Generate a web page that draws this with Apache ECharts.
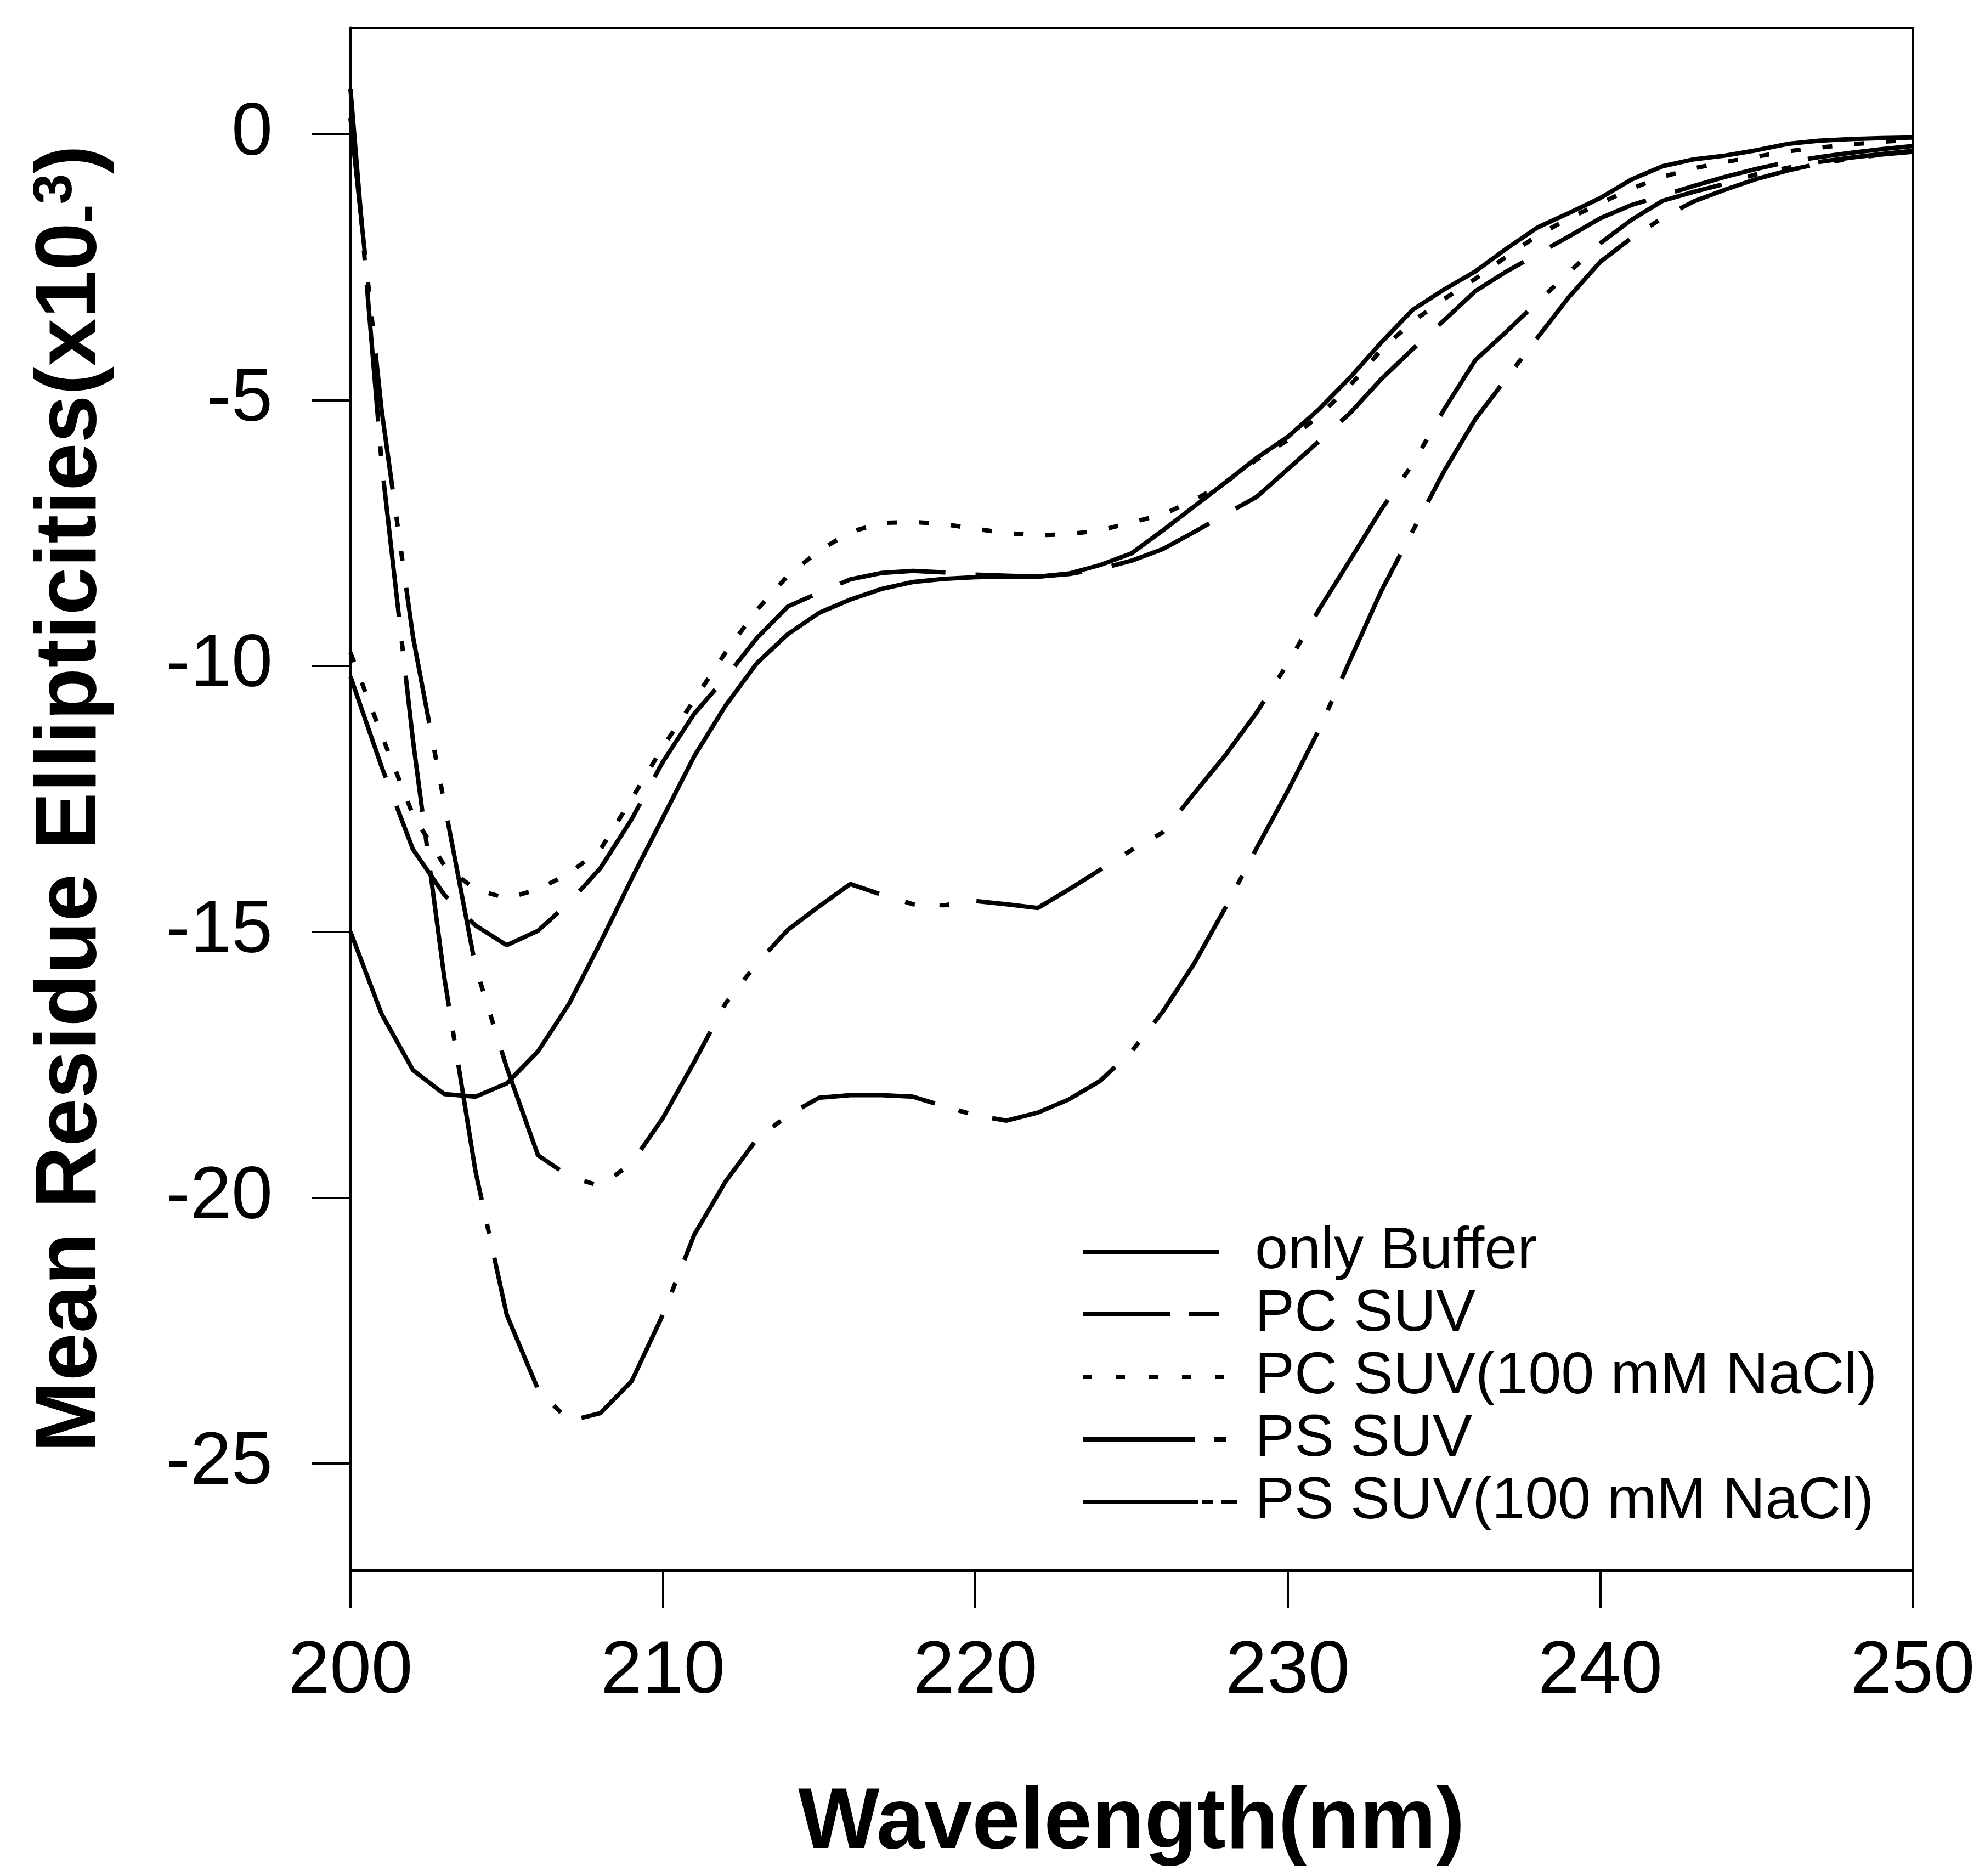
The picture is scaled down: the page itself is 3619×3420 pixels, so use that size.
<!DOCTYPE html>
<html>
<head>
<meta charset="utf-8">
<script src="https://cdn.jsdelivr.net/npm/echarts@6/dist/echarts.min.js"></script>
<style>
html, body { margin: 0; padding: 0; background: #fff; }
#chart { width: 3619px; height: 3420px; }
</style>
</head>
<body>
<div id="chart"></div>
<script>
// wavelength (nm), one reading per nm
var wavelength = [200, 201, 202, 203, 204, 205, 206, 207, 208, 209,
                  210, 211, 212, 213, 214, 215, 216, 217, 218, 219,
                  220, 221, 222, 223, 224, 225, 226, 227, 228, 229,
                  230, 231, 232, 233, 234, 235, 236, 237, 238, 239,
                  240, 241, 242, 243, 244, 245, 246, 247, 248, 249, 250];

// mean residue ellipticities (x10^-3)
var onlyBuffer = [-15.0, -16.55, -17.6, -18.05, -18.1, -17.85, -17.25, -16.35, -15.2, -14.0,
                  -12.85, -11.7, -10.75, -9.95, -9.4, -9.0, -8.75, -8.55, -8.42, -8.36,
                  -8.33, -8.32, -8.32, -8.26, -8.1, -7.88, -7.45, -7.0, -6.55, -6.09,
                  -5.69, -5.17, -4.57, -3.91, -3.3, -2.92, -2.58, -2.15, -1.75, -1.48,
                  -1.2, -0.85, -0.6, -0.47, -0.4, -0.3, -0.18, -0.12, -0.09, -0.07, -0.06];

var pcSuv = [-10.2, -11.9, -13.45, -14.3, -14.88, -15.25, -14.98, -14.45, -13.8, -12.88,
             -11.8, -10.9, -10.22, -9.48, -8.88, -8.62, -8.37, -8.25, -8.21, -8.24,
             -8.28, -8.3, -8.32, -8.27, -8.17, -8.02, -7.8, -7.48, -7.15, -6.82,
             -6.3, -5.77, -5.24, -4.6, -4.04, -3.5, -2.95, -2.58, -2.25, -1.92,
             -1.58, -1.33, -1.15, -0.97, -0.8, -0.65, -0.52, -0.43, -0.35, -0.28, -0.22];

var pcSuvNacl = [-9.75, -11.3, -12.8, -13.75, -14.2, -14.37, -14.2, -13.9, -13.45, -12.5,
                 -11.52, -10.64, -9.75, -8.95, -8.3, -7.83, -7.48, -7.31, -7.29, -7.33,
                 -7.42, -7.5, -7.54, -7.52, -7.45, -7.3, -7.15, -6.88, -6.55, -6.12,
                 -5.75, -5.3, -4.72, -4.05, -3.52, -3.1, -2.72, -2.3, -1.9, -1.58,
                 -1.3, -1.02, -0.8, -0.64, -0.52, -0.42, -0.32, -0.25, -0.19, -0.14, -0.1];

var psSuv = [0.85, -6.2, -11.4, -15.85, -19.5, -22.2, -23.6, -24.2, -24.05, -23.45,
             -22.2, -20.7, -19.7, -18.9, -18.45, -18.12, -18.07, -18.07, -18.1, -18.28,
             -18.45, -18.55, -18.4, -18.15, -17.8, -17.25, -16.5, -15.6, -14.55, -13.43,
             -12.35, -11.2, -9.88, -8.58, -7.46, -6.34, -5.36, -4.59, -3.82, -3.06,
             -2.4, -1.95, -1.57, -1.26, -1.04, -0.84, -0.68, -0.55, -0.46, -0.38, -0.33];

var psSuvNacl = [0.3, -5.2, -9.45, -12.57, -15.65, -17.55, -19.2, -19.6, -19.78, -19.35,
                 -18.5, -17.45, -16.35, -15.6, -14.96, -14.52, -14.1, -14.3, -14.48, -14.5,
                 -14.42, -14.48, -14.55, -14.2, -13.83, -13.46, -13.13, -12.4, -11.68, -10.88,
                 -9.95, -8.94, -8.0, -7.05, -6.2, -5.18, -4.25, -3.71, -3.15, -2.6,
                 -2.05, -1.61, -1.25, -1.08, -0.93, -0.75, -0.63, -0.52, -0.44, -0.37, -0.31];

var seriesNames = ['only Buffer', 'PC SUV', 'PC SUV(100 mM NaCl)', 'PS SUV', 'PS SUV(100 mM NaCl)'];
var yTicks = [0, -5, -10, -15, -20, -25];

var font = '"Liberation Sans", Arial, Helvetica, sans-serif';

function pairs(vals) {
    var out = [];
    for (var i = 0; i < wavelength.length; i++) {
        out.push([wavelength[i], vals[i]]);
    }
    return out;
}

// dash pattern used on the curves
var plotDash = ['solid', [195, 55], [18, 40], [250, 45, 18, 45], [250, 50, 18, 45, 18, 50]];
// the legend samples are shorter, so their pattern is cut to fit
var legendDash = [[247, 100], [159, 33, 55, 100], [16, 44], [203, 36, 22, 100], [209, 7, 20, 16, 28, 100]];
var allData = [onlyBuffer, pcSuv, pcSuvNacl, psSuv, psSuvNacl];

var series = [];
var legendData = [];
for (var k = 0; k < seriesNames.length; k++) {
    series.push({
        name: seriesNames[k],
        type: 'line',
        symbol: 'none',
        smooth: false,
        data: pairs(allData[k]),
        lineStyle: { color: '#000', width: 8, type: plotDash[k], cap: 'butt' },
        itemStyle: { color: '#000' }
    });
    legendData.push({
        name: seriesNames[k],
        // no marker in the middle of the sample, only the line
        itemStyle: { color: 'rgba(0,0,0,0)', borderWidth: 0, opacity: 0 },
        lineStyle: { color: '#000', width: 8, type: legendDash[k], cap: 'butt', opacity: 1 }
    });
}

var myChart = echarts.init(document.getElementById('chart'), null, { renderer: 'canvas' });

var option = {
    animation: false,
    backgroundColor: '#fff',
    grid: {
        left: 639, right: 132, top: 51, bottom: 558,
        show: true, borderColor: '#000', borderWidth: 4, backgroundColor: 'transparent'
    },
    legend: {
        orient: 'vertical',
        left: 1971,
        top: 2228,
        padding: 0,
        itemWidth: 280,
        itemHeight: 30,
        itemGap: 6,
        selectedMode: false,
        data: legendData,
        textStyle: {
            fontFamily: font, fontSize: 108, color: '#000',
            lineHeight: 108, padding: [0, 0, 0, 28]
        }
    },
    xAxis: {
        type: 'value',
        min: 200, max: 250, interval: 10,
        name: 'Wavelength(nm)',
        nameLocation: 'middle',
        nameGap: 385,
        nameTextStyle: { fontFamily: font, fontSize: 157, fontWeight: 'bold', color: '#000' },
        axisLine: { show: true, onZero: false, lineStyle: { color: '#000', width: 5 } },
        axisTick: { show: true, inside: false, length: 70, lineStyle: { color: '#000', width: 4 } },
        axisLabel: { fontFamily: font, fontSize: 136, color: '#000', margin: 118 },
        splitLine: { show: false }
    },
    yAxis: {
        type: 'value',
        min: -27, max: 2,
        name: '{m|Mean Residue Ellipticities(x10}{sub|-}{sup|3}{m|)}',
        nameLocation: 'middle',
        nameRotate: 90,
        nameGap: 430,
        nameTextStyle: {
            color: '#000',
            rich: {
                m: { fontFamily: font, fontSize: 157, fontWeight: 'bold', color: '#000' },
                sub: { fontFamily: font, fontSize: 100, fontWeight: 'bold', color: '#000', verticalAlign: 'bottom' },
                sup: { fontFamily: font, fontSize: 100, fontWeight: 'bold', color: '#000', verticalAlign: 'top' }
            }
        },
        axisLine: { show: true, onZero: false, lineStyle: { color: '#000', width: 5 } },
        axisTick: { show: true, inside: false, length: 70, customValues: yTicks, lineStyle: { color: '#000', width: 4 } },
        axisLabel: { fontFamily: font, fontSize: 135, color: '#000', margin: 142, customValues: yTicks },
        splitLine: { show: false }
    },
    series: series
};

if (option)
    myChart.setOption(option);
</script>
</body>
</html>
